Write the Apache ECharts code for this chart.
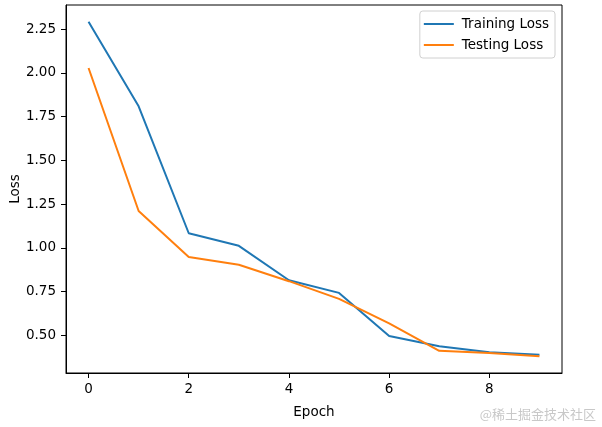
<!DOCTYPE html>
<html>
<head>
<meta charset="utf-8">
<script src="https://cdn.jsdelivr.net/npm/echarts@6/dist/echarts.min.js"></script>
<style>html,body{margin:0;padding:0;background:#fff;}#c{width:602px;height:427px;}</style>
</head>
<body>
<div id="c"></div>
<script>
const epochs = [0,1,2,3,4,5,6,7,8,9];
const trainingLoss = [2.292,1.809,1.083,1.011,0.814,0.742,0.496,0.437,0.403,0.388];
const testingLoss = [2.028,1.21,0.947,0.903,0.809,0.708,0.568,0.411,0.399,0.380];
const xTicks = [0,2,4,6,8];
const yTicks = [0.5,0.75,1.0,1.25,1.5,1.75,2.0,2.25];

const chart = echarts.init(document.getElementById('c'), null, {renderer:'canvas'});
const font = 'DejaVu Sans';
chart.setOption({
  animation:false,
  backgroundColor:'#fff',
  textStyle:{fontFamily:font},
  grid:{left:66,right:40,top:5,bottom:54,containLabel:false,outerBoundsMode:'none',show:true,borderColor:'#000',borderWidth:1,backgroundColor:'transparent'},
  legend:{
    right:47, top:11, orient:'vertical', itemGap:7,
    itemWidth:30, itemHeight:2, icon:'rect',
    borderColor:'#d0d0d0', borderWidth:1, borderRadius:3, padding:[6,6,6,4],
    textStyle:{fontFamily:font,fontSize:13.5,color:'#000',padding:[0,0,0,3]},
    data:['Training Loss','Testing Loss']
  },
  xAxis:{
    type:'value', min:-0.45, max:9.45,
    name:'Epoch', nameLocation:'middle', nameGap:32, nameMoveOverlap:false,
    nameTextStyle:{fontFamily:font,fontSize:13.5,color:'#000'},
    splitLine:{show:false},
    axisLine:{show:true,onZero:false,lineStyle:{color:'#000',width:1}},
    axisTick:{show:true,length:5,lineStyle:{color:'#000'},customValues:xTicks},
    axisLabel:{fontFamily:font,fontSize:13.5,color:'#000',margin:9,customValues:xTicks,formatter:v=>String(v)}
  },
  yAxis:{
    type:'value', min:0.284, max:2.388,
    name:'Loss', nameLocation:'middle', nameGap:44, nameRotate:90, nameMoveOverlap:false,
    nameTextStyle:{fontFamily:font,fontSize:13.5,color:'#000'},
    splitLine:{show:false},
    axisLine:{show:true,onZero:false,lineStyle:{color:'#000',width:1}},
    axisTick:{show:true,length:5,lineStyle:{color:'#000'},customValues:yTicks},
    axisLabel:{fontFamily:font,fontSize:13.5,color:'#000',margin:10,customValues:yTicks,formatter:v=>v.toFixed(2)}
  },
  graphic:[{type:'text',right:6,bottom:6,style:{text:'@稀土掘金技术社区',fill:'#c8c8c8',fontSize:13,fontFamily:'Noto Sans CJK SC'}}],
  series:[
    {name:'Training Loss',type:'line',data:epochs.map((e,i)=>[e,trainingLoss[i]]),showSymbol:false,symbol:'none',lineStyle:{color:'#1f77b4',width:2},itemStyle:{color:'#1f77b4'}},
    {name:'Testing Loss',type:'line',data:epochs.map((e,i)=>[e,testingLoss[i]]),showSymbol:false,symbol:'none',lineStyle:{color:'#ff7f0e',width:2},itemStyle:{color:'#ff7f0e'}}
  ]
});
</script>
</body>
</html>
